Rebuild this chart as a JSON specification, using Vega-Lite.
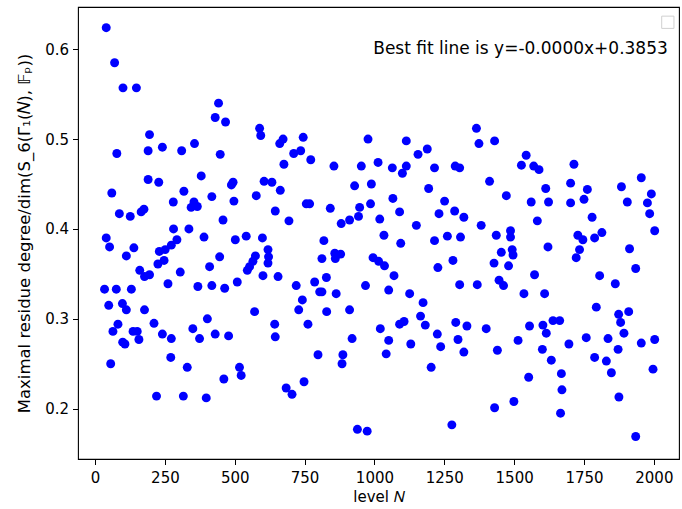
{
  "$schema": "https://vega.github.io/schema/vega-lite/v6.json",
  "width": 601,
  "height": 452,
  "autosize": {"type": "none"},
  "padding": {"left": 78, "top": 7, "right": 3, "bottom": 50},
  "background": "white",
  "config": {
    "view": {"stroke": "#000000", "strokeWidth": 1.1},
    "font": "DejaVu Sans",
    "axis": {
      "domain": false, "grid": false, "ticks": true, "tickColor": "#000000", "tickSize": 5.5, "tickWidth": 1,
      "labelFont": "DejaVu Sans", "labelFontSize": 15, "labelColor": "#000000", "labelPadding": 4,
      "titleFont": "DejaVu Sans", "titleFontSize": 15, "titleFontWeight": "normal", "titleColor": "#000000"
    }
  },
  "datasets": {
    "pts": [
      {"N":40,"r":0.624},{"N":70,"r":0.585},{"N":100,"r":0.557},{"N":148,"r":0.557},{"N":195,"r":0.505},{"N":78,"r":0.484},{"N":190,"r":0.487},{"N":241,"r":0.491},{"N":310,"r":0.487},{"N":356,"r":0.495},{"N":380,"r":0.459},{"N":190,"r":0.455},{"N":228,"r":0.452},{"N":60,"r":0.44},{"N":318,"r":0.442},{"N":280,"r":0.43},{"N":354,"r":0.43},{"N":344,"r":0.424},{"N":366,"r":0.425},{"N":87,"r":0.417},{"N":126,"r":0.414},{"N":165,"r":0.419},{"N":175,"r":0.422},{"N":281,"r":0.4},{"N":336,"r":0.4},{"N":40,"r":0.39},{"N":52,"r":0.38},{"N":139,"r":0.379},{"N":112,"r":0.37},{"N":293,"r":0.388},{"N":273,"r":0.382},{"N":251,"r":0.377},{"N":230,"r":0.375},{"N":247,"r":0.365},{"N":225,"r":0.361},{"N":160,"r":0.354},{"N":177,"r":0.347},{"N":195,"r":0.349},{"N":305,"r":0.352},{"N":261,"r":0.339},{"N":34,"r":0.333},{"N":76,"r":0.333},{"N":130,"r":0.333},{"N":368,"r":0.336},{"N":49,"r":0.315},{"N":98,"r":0.317},{"N":112,"r":0.31},{"N":177,"r":0.31},{"N":82,"r":0.294},{"N":64,"r":0.286},{"N":211,"r":0.295},{"N":136,"r":0.286},{"N":151,"r":0.286},{"N":157,"r":0.277},{"N":99,"r":0.274},{"N":107,"r":0.272},{"N":56,"r":0.25},{"N":241,"r":0.283},{"N":273,"r":0.278},{"N":271,"r":0.257},{"N":330,"r":0.246},{"N":220,"r":0.214},{"N":316,"r":0.214},{"N":350,"r":0.289},{"N":374,"r":0.278},
      {"N":442,"r":0.54},{"N":430,"r":0.524},{"N":467,"r":0.519},{"N":589,"r":0.512},{"N":593,"r":0.504},{"N":661,"r":0.495},{"N":673,"r":0.5},{"N":745,"r":0.502},{"N":711,"r":0.484},{"N":736,"r":0.487},{"N":772,"r":0.477},{"N":676,"r":0.472},{"N":448,"r":0.483},{"N":488,"r":0.449},{"N":494,"r":0.452},{"N":418,"r":0.436},{"N":497,"r":0.431},{"N":577,"r":0.437},{"N":605,"r":0.453},{"N":633,"r":0.452},{"N":663,"r":0.443},{"N":645,"r":0.42},{"N":694,"r":0.409},{"N":756,"r":0.428},{"N":768,"r":0.428},{"N":458,"r":0.41},{"N":390,"r":0.391},{"N":446,"r":0.369},{"N":410,"r":0.358},{"N":502,"r":0.388},{"N":541,"r":0.392},{"N":599,"r":0.39},{"N":619,"r":0.377},{"N":621,"r":0.369},{"N":619,"r":0.362},{"N":574,"r":0.37},{"N":565,"r":0.364},{"N":553,"r":0.358},{"N":545,"r":0.354},{"N":601,"r":0.348},{"N":655,"r":0.347},{"N":418,"r":0.337},{"N":464,"r":0.334},{"N":509,"r":0.341},{"N":720,"r":0.337},{"N":786,"r":0.341},{"N":804,"r":0.33},{"N":742,"r":0.321},{"N":729,"r":0.31},{"N":571,"r":0.308},{"N":402,"r":0.3},{"N":430,"r":0.283},{"N":478,"r":0.281},{"N":643,"r":0.294},{"N":645,"r":0.28},{"N":762,"r":0.294},{"N":798,"r":0.26},{"N":517,"r":0.246},{"N":523,"r":0.237},{"N":461,"r":0.233},{"N":684,"r":0.223},{"N":705,"r":0.216},{"N":748,"r":0.23},{"N":398,"r":0.212},
      {"N":977,"r":0.5},{"N":1114,"r":0.498},{"N":1156,"r":0.483},{"N":1189,"r":0.489},{"N":855,"r":0.47},{"N":953,"r":0.47},{"N":1013,"r":0.474},{"N":1064,"r":0.468},{"N":1114,"r":0.47},{"N":1100,"r":0.462},{"N":1215,"r":0.468},{"N":929,"r":0.448},{"N":989,"r":0.45},{"N":1194,"r":0.445},{"N":1066,"r":0.434},{"N":842,"r":0.423},{"N":947,"r":0.424},{"N":943,"r":0.414},{"N":911,"r":0.41},{"N":881,"r":0.406},{"N":986,"r":0.428},{"N":1019,"r":0.411},{"N":1090,"r":0.419},{"N":1231,"r":0.417},{"N":1150,"r":0.404},{"N":1034,"r":0.393},{"N":1094,"r":0.384},{"N":1215,"r":0.387},{"N":819,"r":0.387},{"N":812,"r":0.367},{"N":858,"r":0.373},{"N":879,"r":0.372},{"N":860,"r":0.367},{"N":995,"r":0.368},{"N":1015,"r":0.364},{"N":1036,"r":0.359},{"N":1070,"r":0.348},{"N":1227,"r":0.357},{"N":828,"r":0.346},{"N":812,"r":0.33},{"N":863,"r":0.328},{"N":968,"r":0.337},{"N":1051,"r":0.332},{"N":1126,"r":0.328},{"N":1174,"r":0.318},{"N":829,"r":0.308},{"N":911,"r":0.31},{"N":1165,"r":0.303},{"N":1182,"r":0.293},{"N":1090,"r":0.294},{"N":1106,"r":0.297},{"N":1021,"r":0.289},{"N":920,"r":0.278},{"N":1051,"r":0.276},{"N":1130,"r":0.272},{"N":1225,"r":0.283},{"N":1237,"r":0.269},{"N":887,"r":0.26},{"N":884,"r":0.25},{"N":1042,"r":0.261},{"N":1203,"r":0.246},{"N":939,"r":0.177},{"N":974,"r":0.175},
      {"N":1365,"r":0.512},{"N":1374,"r":0.495},{"N":1430,"r":0.498},{"N":1543,"r":0.482},{"N":1526,"r":0.471},{"N":1570,"r":0.47},{"N":1589,"r":0.466},{"N":1289,"r":0.47},{"N":1305,"r":0.468},{"N":1412,"r":0.453},{"N":1613,"r":0.445},{"N":1472,"r":0.437},{"N":1561,"r":0.43},{"N":1623,"r":0.43},{"N":1251,"r":0.431},{"N":1287,"r":0.42},{"N":1320,"r":0.413},{"N":1583,"r":0.409},{"N":1382,"r":0.404},{"N":1261,"r":0.392},{"N":1308,"r":0.391},{"N":1436,"r":0.393},{"N":1487,"r":0.398},{"N":1487,"r":0.391},{"N":1454,"r":0.374},{"N":1493,"r":0.377},{"N":1496,"r":0.371},{"N":1428,"r":0.362},{"N":1480,"r":0.359},{"N":1281,"r":0.365},{"N":1621,"r":0.38},{"N":1446,"r":0.343},{"N":1462,"r":0.337},{"N":1305,"r":0.338},{"N":1368,"r":0.338},{"N":1573,"r":0.349},{"N":1535,"r":0.328},{"N":1609,"r":0.328},{"N":1291,"r":0.296},{"N":1331,"r":0.292},{"N":1400,"r":0.289},{"N":1555,"r":0.292},{"N":1603,"r":0.293},{"N":1639,"r":0.298},{"N":1663,"r":0.298},{"N":1615,"r":0.284},{"N":1299,"r":0.277},{"N":1320,"r":0.263},{"N":1440,"r":0.265},{"N":1514,"r":0.276},{"N":1601,"r":0.266},{"N":1633,"r":0.254},{"N":1552,"r":0.235},{"N":1430,"r":0.201},{"N":1499,"r":0.208},{"N":1277,"r":0.182},
      {"N":1714,"r":0.472},{"N":1702,"r":0.451},{"N":1702,"r":0.429},{"N":1750,"r":0.433},{"N":1762,"r":0.444},{"N":1884,"r":0.447},{"N":1955,"r":0.457},{"N":1991,"r":0.439},{"N":1905,"r":0.43},{"N":1977,"r":0.429},{"N":1985,"r":0.417},{"N":1779,"r":0.413},{"N":2003,"r":0.398},{"N":1728,"r":0.393},{"N":1746,"r":0.388},{"N":1788,"r":0.39},{"N":1814,"r":0.396},{"N":1734,"r":0.377},{"N":1722,"r":0.368},{"N":1913,"r":0.378},{"N":1935,"r":0.356},{"N":1806,"r":0.348},{"N":1862,"r":0.339},{"N":1794,"r":0.313},{"N":1874,"r":0.305},{"N":1881,"r":0.296},{"N":1910,"r":0.308},{"N":1893,"r":0.284},{"N":1696,"r":0.272},{"N":1758,"r":0.279},{"N":1836,"r":0.278},{"N":1872,"r":0.266},{"N":1955,"r":0.273},{"N":2003,"r":0.277},{"N":1788,"r":0.257},{"N":1830,"r":0.253},{"N":1848,"r":0.24},{"N":1997,"r":0.244},{"N":1669,"r":0.239},{"N":1671,"r":0.221},{"N":1666,"r":0.195},{"N":1875,"r":0.213},{"N":1935,"r":0.169}
    ],
    "note": [{"N": 2050, "r": 0.6, "label": "Best fit line is y=-0.0000x+0.3853"}],
    "legendbox": [{"N": 2050, "r": 0.63}]
  },
  "layer": [
    {
      "data": {"name": "pts"},
      "mark": {"type": "circle", "color": "#0000ff", "opacity": 1, "size": 80},
      "encoding": {
        "x": {"field": "N", "type": "quantitative", "scale": {"domain": [-61, 2090], "nice": false, "zero": false},
              "axis": {"values": [0, 250, 500, 750, 1000, 1250, 1500, 1750, 2000], "format": "d", "labelPadding": 6, "title": "level 𝑁", "titlePadding": 4}},
        "y": {"field": "r", "type": "quantitative", "scale": {"domain": [0.144, 0.647], "nice": false, "zero": false},
              "axis": {"values": [0.2, 0.3, 0.4, 0.5, 0.6], "format": ".1f", "title": "Maximal residue degree/dim(S_6(Γ₁(𝑁), 𝔽ₚ))", "titleFontSize": 16.5, "titlePadding": 12}}
      }
    },
    {
      "data": {"name": "note"},
      "mark": {"type": "text", "align": "right", "baseline": "middle", "fontSize": 17, "font": "DejaVu Sans", "color": "#000000"},
      "encoding": {
        "x": {"field": "N", "type": "quantitative"},
        "y": {"field": "r", "type": "quantitative"},
        "text": {"field": "label"}
      }
    },
    {
      "data": {"name": "legendbox"},
      "mark": {"type": "point", "shape": "square", "filled": false, "stroke": "#d0d0d0", "strokeWidth": 1, "size": 150, "opacity": 1},
      "encoding": {
        "x": {"field": "N", "type": "quantitative"},
        "y": {"field": "r", "type": "quantitative"}
      }
    }
  ]
}
